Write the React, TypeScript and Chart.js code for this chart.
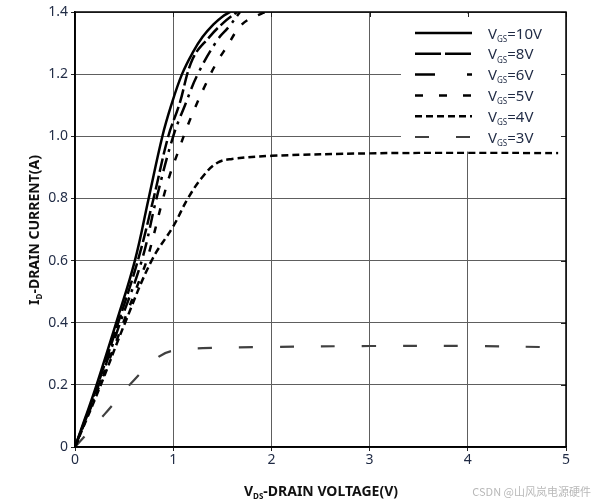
import { useEffect, useRef } from "react";
import { Chart, registerables } from "chart.js";
Chart.register(...registerables);

// ---- data ----
const xTickValues = [0, 1, 2, 3, 4, 5];
const yTickValues = [0, 0.2, 0.4, 0.6, 0.8, 1.0, 1.2, 1.4];
const seriesLabels = ["10V", "8V", "6V", "5V", "4V", "3V"];

const vds10 = [0, 0.1, 0.22, 0.42, 0.61, 0.75, 0.89, 0.98, 1.09, 1.2, 1.3, 1.41, 1.5, 1.58];
const id10 = [0, 0.09, 0.2, 0.4, 0.6, 0.8, 1.0, 1.1, 1.2, 1.27, 1.32, 1.36, 1.385, 1.4];

const vds8 = [0, 0.22, 0.44, 0.64, 0.8, 0.95, 1.06, 1.2, 1.37, 1.51, 1.65];
const id8 = [0, 0.19, 0.4, 0.6, 0.8, 1.0, 1.1, 1.25, 1.32, 1.365, 1.4];

const vds6 = [0, 0.23, 0.46, 0.68, 0.83, 1.0, 1.12, 1.25, 1.45, 1.56, 1.68];
const id6 = [0, 0.19, 0.4, 0.6, 0.8, 1.0, 1.1, 1.2, 1.31, 1.35, 1.4];

const vds5 = [0, 0.24, 0.48, 0.66, 0.73, 0.8, 0.88, 0.97, 1.05, 1.13, 1.22, 1.32, 1.43, 1.55, 1.7, 1.9, 1.97];
const id5 = [0, 0.19, 0.39, 0.54, 0.6, 0.68, 0.78, 0.88, 0.95, 1.02, 1.09, 1.16, 1.23, 1.29, 1.36, 1.395, 1.4];

const vds4 = [0, 0.25, 0.51, 0.78, 1.0, 1.15, 1.3, 1.45, 1.6, 2.0, 3.0, 4.0, 4.92];
const id4 = [0, 0.19, 0.4, 0.6, 0.71, 0.8, 0.87, 0.915, 0.927, 0.937, 0.945, 0.947, 0.946];

const vds3 = [0, 0.3, 0.6, 0.85, 1.0, 1.3, 2.0, 3.0, 4.0, 4.9];
const id3 = [0, 0.105, 0.215, 0.29, 0.31, 0.318, 0.322, 0.325, 0.325, 0.321];

const seriesX = [vds10, vds8, vds6, vds5, vds4, vds3];
const seriesY = [id10, id8, id6, id5, id4, id3];

// ---- styles ----
const curveDash = [[], [14, 4], [14, 6, 3, 6], [7, 12], [7, 4], [14, 27]];
const legendDash = [[], [26, 4], [20, 32, 5, 100], [8, 16], [7, 4], [14, 27]];
const colors = ["#000", "#000", "#000", "#000", "#000", "#404040"];
const widths = [2.5, 2.5, 2.5, 2.5, 2.5, 2.2];
const textColor = "#1f2a44";
const FONT = "'Noto Sans', 'DejaVu Sans', sans-serif";

function drawSubText(
  ctx: CanvasRenderingContext2D,
  parts: { t: string; sub?: boolean }[],
  size: number,
  subSize: number,
  weight: string,
  x: number,
  y: number,
  align: "left" | "center"
) {
  let total = 0;
  for (const p of parts) {
    ctx.font = `${weight} ${p.sub ? subSize : size}px ${FONT}`;
    total += ctx.measureText(p.t).width;
  }
  let cx = align === "center" ? x - total / 2 : x;
  ctx.textBaseline = "alphabetic";
  ctx.textAlign = "left";
  for (const p of parts) {
    ctx.font = `${weight} ${p.sub ? subSize : size}px ${FONT}`;
    ctx.fillText(p.t, cx, p.sub ? y + size * 0.22 : y);
    cx += ctx.measureText(p.t).width;
  }
}

const decorPlugin = {
  id: "decor",
  afterDatasetsDraw(chart: any) {
    const ctx: CanvasRenderingContext2D = chart.ctx;
    const { left, right, top, bottom } = chart.chartArea;
    const xs = chart.scales.x;
    const ys = chart.scales.y;
    ctx.save();
    // legend box
    ctx.fillStyle = "#fff";
    ctx.fillRect(401, top + 1.5, right - 401 - 1.5, 150 - top);
    const lx0 = 415;
    const lx1 = 472;
    for (let i = 0; i < seriesLabels.length; i++) {
      const y = 33 + i * 20.8;
      ctx.beginPath();
      ctx.setLineDash(legendDash[i]);
      ctx.strokeStyle = colors[i];
      ctx.lineWidth = widths[i];
      ctx.lineCap = "butt";
      ctx.moveTo(lx0, y);
      ctx.lineTo(lx1, y);
      ctx.stroke();
      ctx.setLineDash([]);
      ctx.fillStyle = textColor;
      drawSubText(
        ctx,
        [{ t: "V" }, { t: "GS", sub: true }, { t: "=" + seriesLabels[i] }],
        15,
        8,
        "normal",
        488,
        y + 5.5,
        "left"
      );
    }
    // inner ticks on top and right
    ctx.strokeStyle = "#222";
    ctx.lineWidth = 1;
    ctx.setLineDash([]);
    for (const v of xTickValues) {
      const px = Math.round(xs.getPixelForValue(v)) + 0.5;
      ctx.beginPath();
      ctx.moveTo(px, top);
      ctx.lineTo(px, top + 5);
      ctx.stroke();
    }
    for (const v of yTickValues) {
      const py = Math.round(ys.getPixelForValue(v)) + 0.5;
      ctx.beginPath();
      ctx.moveTo(right, py);
      ctx.lineTo(right - 5, py);
      ctx.stroke();
    }
    // frame
    ctx.strokeStyle = "#000";
    ctx.lineWidth = 1.5;
    ctx.strokeRect(left, top, right - left, bottom - top);

    // axis titles
    ctx.fillStyle = "#111";
    drawSubText(
      ctx,
      [{ t: "V" }, { t: "DS", sub: true }, { t: "-DRAIN VOLTAGE(V)" }],
      14,
      8,
      "bold",
      321,
      496,
      "center"
    );
    ctx.save();
    ctx.translate(39, 230);
    ctx.rotate(-Math.PI / 2);
    drawSubText(
      ctx,
      [{ t: "I" }, { t: "D", sub: true }, { t: "-DRAIN CURRENT(A)" }],
      14,
      8,
      "bold",
      0,
      0,
      "center"
    );
    ctx.restore();

    // watermark
    ctx.fillStyle = "#b8b8b8";
    ctx.font = `11px 'Noto Sans CJK SC', ${FONT}`;
    ctx.textAlign = "right";
    ctx.textBaseline = "middle";
    ctx.fillText("CSDN @山风岚电源硬件", 591, 492);
    ctx.restore();
  },
};

export default function App() {
  const ref = useRef<HTMLCanvasElement | null>(null);
  useEffect(() => {
    document.body.style.margin = "0";
    const canvas = ref.current;
    if (!canvas) return;
    const datasets = seriesLabels.map((lab, i) => ({
      label: "VGS=" + lab,
      data: seriesX[i].map((x, k) => ({ x, y: seriesY[i][k] })),
      borderColor: colors[i],
      borderWidth: widths[i],
      borderDash: curveDash[i],
      borderCapStyle: "butt" as const,
      pointRadius: 0,
      fill: false,
      tension: 0.4,
      showLine: true,
    }));
    const chart = new Chart(canvas, {
      type: "line",
      data: { datasets },
      options: {
        responsive: false,
        animation: false,
        devicePixelRatio: 1,
        layout: { padding: { top: 12, right: 30, left: 0, bottom: 0 } },
        plugins: { legend: { display: false }, tooltip: { enabled: false } },
        scales: {
          x: {
            type: "linear",
            min: 0,
            max: 5,
            afterFit: (s: any) => {
              s.height = 56;
            },
            ticks: {
              stepSize: 1,
              color: textColor,
              font: { size: 14, family: FONT },
              padding: 1,
              callback: (v: any) => String(v),
            },
            grid: { color: "#5e5e5e", lineWidth: 1, tickLength: 4, tickColor: "#222" },
            border: { color: "#000", width: 1.5 },
          },
          y: {
            type: "linear",
            min: 0,
            max: 1.4,
            afterFit: (s: any) => {
              s.width = 75;
            },
            afterBuildTicks: (s: any) => {
              s.ticks = yTickValues.map((v) => ({ value: v }));
            },
            ticks: {
              color: textColor,
              font: { size: 14, family: FONT },
              padding: 3,
              callback: (v: any) => (Number(v) === 0 ? "0" : Number(v).toFixed(1)),
            },
            grid: { color: "#5e5e5e", lineWidth: 1, tickLength: 4, tickColor: "#222" },
            border: { color: "#000", width: 1.5 },
          },
        },
      },
      plugins: [decorPlugin],
    });
    return () => chart.destroy();
  }, []);
  return <canvas ref={ref} width={596} height={503} style={{ display: "block" }} />;
}
